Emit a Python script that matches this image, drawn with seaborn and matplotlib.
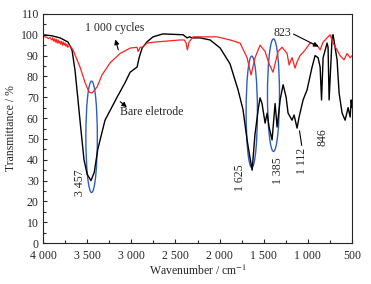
"""
FTIR spectra: bare electrode vs. after 1 000 cycles
"""
import matplotlib
matplotlib.use("Agg")
import matplotlib.pyplot as plt
from matplotlib.patches import Ellipse
from matplotlib.ticker import FuncFormatter, MultipleLocator
import seaborn as sns
import pandas as pd

# bare electrode (black)
bare_wn = [4000, 3900, 3807, 3717, 3672, 3638, 3604, 3570, 3536, 3500, 3457,
           3420, 3380, 3298, 3162, 3071, 3014, 2935, 2912, 2878, 2822, 2754,
           2675, 2641, 2414, 2369, 2340, 2312, 2221, 2108, 1995, 1882, 1791,
           1735, 1689, 1660, 1632, 1600, 1564, 1542, 1520, 1485, 1462, 1440,
           1406, 1372, 1349, 1315, 1281, 1247, 1225, 1180, 1157, 1123, 1100,
           1055, 1010, 953, 919, 885, 862, 846, 828, 783, 772, 760, 726, 715,
           670, 647, 613, 579, 545, 522, 510, 500]
bare_t = [100, 99.5, 98.5, 96.5, 92.7, 83, 68.7, 54, 40, 33, 30,
          34, 45, 59, 70, 77, 82, 84.5, 89, 93.6, 96.6, 99,
          100, 100.4, 100, 98.5, 99, 98.5, 98.5, 97.5, 93.7, 86, 73.5,
          64, 49.5, 42, 35, 52, 64, 69.7, 67, 57.6, 62.4, 55.7,
          49.5, 67, 55.7, 68.7, 76, 70, 62.4, 59, 61.5, 55.2, 60.5,
          68.7, 73.5, 84.5, 90, 89, 84.5, 68.7, 89, 96, 94, 68.7, 99, 100,
          88, 72, 62.4, 59, 65, 60.5, 68.7, 65]

# after 1 000 cycles (red)
cyc_wn = [4000, 3980, 3960, 3940, 3920, 3900, 3890, 3880, 3870, 3860, 3850,
          3840, 3830, 3820, 3810, 3800, 3790, 3780, 3770, 3760, 3750, 3740,
          3730, 3720, 3700, 3660, 3620, 3581, 3524, 3479, 3450, 3434, 3388,
          3332, 3241, 3128, 3014, 2935, 2924, 2900, 2878, 2822, 2731, 2448,
          2400, 2380, 2365, 2346, 2301, 2029, 1882, 1768, 1689, 1644, 1599,
          1542, 1485, 1440, 1395, 1338, 1293, 1236, 1213, 1180, 1146, 1123,
          1089, 1032, 976, 896, 862, 828, 783, 749, 715, 670, 636, 591, 557,
          522, 500]
cyc_t = [99.5, 99, 98.8, 98.2, 98.6, 97.5, 98.5, 97, 98, 96.5, 97.8,
         96, 97.5, 96, 97, 95.5, 96.8, 95, 96.5, 95, 96, 94.5,
         95.5, 94, 95, 92.7, 88.5, 84.5, 77, 72.5, 72, 72.5, 75,
         80.7, 86.5, 91, 93.6, 94, 92, 94, 94, 96, 96.5, 97.5,
         97.5, 96, 92.7, 96.5, 99, 99, 97.5, 96, 89, 80.7, 89,
         95, 92, 86, 82, 92, 94, 91, 85.5, 89, 84, 87,
         90, 92.7, 96, 95, 92.7, 96.5, 98.5, 100, 96, 92.7, 90, 88, 91,
         89, 90]

# blue circled bands: centre wavenumber, centre T, width, height
ell_wn = [3450, 1636, 1390]
ell_t = [51, 63, 71]
ell_w = [130, 128, 136]
ell_h = [53.5, 53.5, 54]

# rotated peak labels
peak_labels = ["3 457", "1 625", "1 385", "1 112", "846"]
peak_wn = [3581, 1768, 1338, 1066, 840]
peak_t = [28.8, 31.2, 34.6, 39.4, 50.9]

sns.set_style("ticks")
plt.rcParams['font.family'] = ['Liberation Serif', 'DejaVu Serif']
plt.rcParams['mathtext.fontset'] = 'stix'
plt.rcParams['font.size'] = 8.5

fig = plt.figure(figsize=(3.71, 2.84), dpi=100)
ax = fig.add_axes([0.116, 0.144, 0.833, 0.807])

df_bare = pd.DataFrame({"wn": bare_wn, "t": bare_t})
df_cyc = pd.DataFrame({"wn": cyc_wn, "t": cyc_t})
sns.lineplot(data=df_bare, x="wn", y="t", color="black", lw=1,
             estimator=None, ax=ax)
sns.lineplot(data=df_cyc, x="wn", y="t", color="#ff2020", lw=0.9,
             estimator=None, ax=ax)

for x, y, w, h in zip(ell_wn, ell_t, ell_w, ell_h):
    ax.add_patch(Ellipse((x, y), w, h, fill=False, edgecolor="#2e5fbf", lw=1))

for lab, x, y in zip(peak_labels, peak_wn, peak_t):
    ax.text(x, y, lab, rotation=90, ha="center", va="center")

arrow = dict(arrowstyle="-|>", color="black", lw=0.8, mutation_scale=7)
ax.text(3184, 103.3, "1 000 cycles", ha="center", va="center")
ax.annotate("", xy=(3190, 99.0), xytext=(3139, 91.5), arrowprops=arrow)
ax.text(2765, 63, "Bare eletrode", ha="center", va="center")
ax.annotate("", xy=(3026, 64.4), xytext=(3150, 68.7), arrowprops=arrow)
ax.text(1293, 100.9, "823", ha="center", va="center")
ax.annotate("", xy=(851, 93.7), xytext=(1191, 100.9), arrowprops=arrow)
ax.annotate("", xy=(1100, 55.2), xytext=(1066, 45.6),
            arrowprops=dict(arrowstyle="-", color="black", lw=0.8))

ax.set_xlim(4000, 500)
ax.set_ylim(0, 110)
ax.xaxis.set_major_locator(MultipleLocator(500))
ax.xaxis.set_minor_locator(MultipleLocator(250))
ax.yaxis.set_major_locator(MultipleLocator(10))
ax.yaxis.set_minor_locator(MultipleLocator(5))
ax.xaxis.set_major_formatter(FuncFormatter(lambda v, p: f"{int(v):,}".replace(",", " ")))
ax.tick_params(which="both", direction="in", length=3, width=0.8)
ax.tick_params(which="minor", length=2)
ax.tick_params(axis="x", pad=5)
ax.tick_params(axis="y", pad=3)
for s in ax.spines.values():
    s.set_linewidth(0.8)
ax.set_xlabel("Wavenumber / cm$^{-1}$", labelpad=1)
ax.set_ylabel("Transmittance / %", labelpad=3)

fig.savefig("out.png", dpi=100)
